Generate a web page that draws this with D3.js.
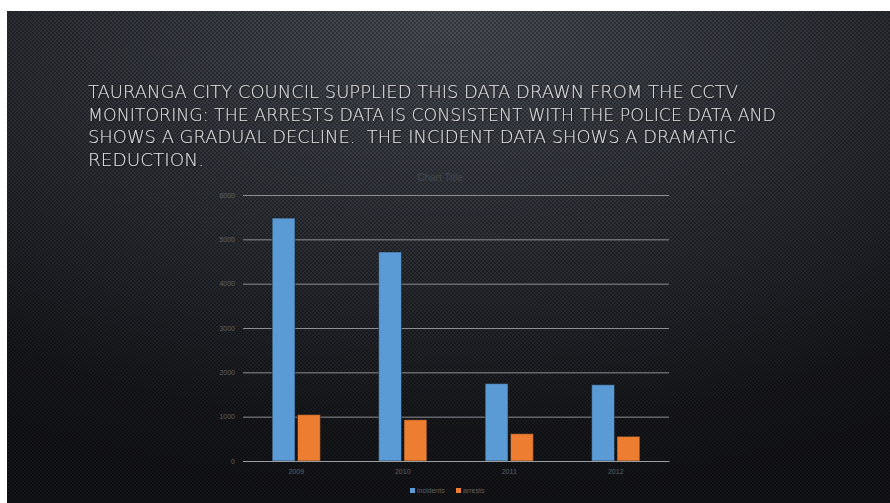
<!DOCTYPE html>
<html>
<head>
<meta charset="utf-8">
<script src="https://cdn.jsdelivr.net/npm/d3@7"></script>
<style>
  body { margin: 0; background: #fff; }
  svg { display: block; }
  .heading text { white-space: pre; }
</style>
</head>
<body>
<div id="chart"></div>
<script>
// values
const years = ["2009", "2010", "2011", "2012"];
const incidents = [5480, 4715, 1745, 1720];
const arrests = [1045, 930, 615, 555];
const yTicks = [0, 1000, 2000, 3000, 4000, 5000, 6000];
const seriesNames = ["incidents", "arrests"];
const seriesColors = ["#5b9bd5", "#ed7d31"];
const titleLines = [
    "TAURANGA CITY COUNCIL SUPPLIED THIS DATA DRAWN FROM THE CCTV",
    "MONITORING: THE ARRESTS DATA IS CONSISTENT WITH THE POLICE DATA AND",
    "SHOWS A GRADUAL DECLINE.  THE INCIDENT DATA SHOWS A DRAMATIC",
    "REDUCTION."
];
const titleWidths = [650, 688, 648, 116];

const W = 890, H = 503;
const svg = d3.select("#chart").append("svg")
    .attr("width", W)
    .attr("height", H);

const defs = svg.append("defs");

// slide background: light spot at the top, dark at the bottom
const bg = defs.append("radialGradient")
    .attr("id", "slideBg")
    .attr("cx", "0.5").attr("cy", "0.0")
    .attr("r", "1.0");
bg.append("stop").attr("offset", "0%").attr("stop-color", "#4a4f57");
bg.append("stop").attr("offset", "45%").attr("stop-color", "#2e3137");
bg.append("stop").attr("offset", "85%").attr("stop-color", "#17181c");
bg.append("stop").attr("offset", "100%").attr("stop-color", "#131417");

// carbon-fibre dots
const pat = defs.append("pattern")
    .attr("id", "dots")
    .attr("width", 4).attr("height", 4)
    .attr("patternUnits", "userSpaceOnUse");
pat.append("circle").attr("cx", 1).attr("cy", 1).attr("r", 1.1).attr("fill", "#000").attr("opacity", 0.35);
pat.append("circle").attr("cx", 3).attr("cy", 3).attr("r", 1.1).attr("fill", "#000").attr("opacity", 0.35);

const shadow = defs.append("filter").attr("id", "txtShadow");
shadow.append("feDropShadow")
    .attr("dx", 1).attr("dy", 1).attr("stdDeviation", 0.8)
    .attr("flood-color", "#000").attr("flood-opacity", 0.6);

svg.append("rect")
    .attr("x", 7).attr("y", 11)
    .attr("width", W - 7).attr("height", H - 11)
    .attr("fill", "url(#slideBg)");
svg.append("rect")
    .attr("x", 7).attr("y", 11)
    .attr("width", W - 7).attr("height", H - 11)
    .attr("fill", "url(#dots)");

// heading text
svg.append("g")
    .attr("class", "heading")
    .attr("filter", "url(#txtShadow)")
    .selectAll("text")
    .data(titleLines)
    .join("text")
    .attr("x", 88)
    .attr("y", (d, i) => 98 + i * 22.7)
    .attr("textLength", (d, i) => titleWidths[i])
    .attr("lengthAdjust", "spacingAndGlyphs")
    .attr("font-family", "DejaVu Sans")
    .attr("font-weight", 300)
    .attr("font-size", 17.5)
    .attr("fill", "#e2e3e5")
    .text(d => d);

// chart
const x0 = d3.scaleBand()
    .domain(years)
    .range([243, 669])
    .paddingInner(0.5)
    .paddingOuter(0.25);

const x1 = d3.scaleBand()
    .domain(seriesNames)
    .range([0, x0.bandwidth()])
    .padding(0.1);

const y = d3.scaleLinear()
    .domain([0, 6000])
    .range([461, 195]);

// chart title (barely visible)
svg.append("text")
    .attr("x", 440)
    .attr("y", 181)
    .attr("text-anchor", "middle")
    .attr("font-family", "Liberation Sans, Arial")
    .attr("font-size", 10)
    .attr("fill", "#43474e")
    .text("Chart Title");

const yAxis = svg.append("g")
    .attr("transform", "translate(243,0)")
    .call(d3.axisLeft(y).tickValues(yTicks).tickSize(-426).tickPadding(8).tickFormat(d3.format("d")));
yAxis.select(".domain").remove();
yAxis.selectAll(".tick line")
    .attr("stroke", "#8c8e92")
    .attr("stroke-width", 1);
yAxis.selectAll(".tick text")
    .attr("font-family", "Liberation Sans, Arial")
    .attr("font-size", 7)
    .attr("fill", "#5e6168");

const groups = svg.append("g")
    .selectAll("g")
    .data(years)
    .join("g")
    .attr("transform", d => `translate(${x0(d)},0)`);

groups.selectAll("rect")
    .data((d, i) => [
        { name: "incidents", value: incidents[i] },
        { name: "arrests", value: arrests[i] }
    ])
    .join("rect")
    .attr("x", d => x1(d.name))
    .attr("y", d => y(d.value))
    .attr("width", x1.bandwidth())
    .attr("height", d => y(0) - y(d.value))
    .attr("fill", d => seriesColors[seriesNames.indexOf(d.name)])
    .attr("stroke", "#1a1c20")
    .attr("stroke-opacity", 0.5)
    .attr("stroke-width", 1);

const xAxis = svg.append("g")
    .attr("transform", "translate(0,461)")
    .call(d3.axisBottom(x0).tickSize(0).tickPadding(8));
xAxis.select(".domain")
    .attr("stroke", "#9a9ca0")
    .attr("stroke-width", 1.2);
xAxis.selectAll(".tick text")
    .attr("font-family", "Liberation Sans, Arial")
    .attr("font-size", 7)
    .attr("fill", "#5e6168");

// legend
const legend = svg.append("g").attr("transform", "translate(410,491)");
const legendX = [0, 46];
seriesNames.forEach((name, i) => {
    const g = legend.append("g").attr("transform", `translate(${legendX[i]},0)`);
    g.append("rect")
        .attr("x", 0).attr("y", -3)
        .attr("width", 5).attr("height", 5)
        .attr("fill", seriesColors[i]);
    g.append("text")
        .attr("x", 7).attr("y", 2)
        .attr("font-family", "Liberation Sans, Arial")
        .attr("font-size", 7)
        .attr("fill", "#5e6168")
        .text(name);
});
</script>
</body>
</html>
